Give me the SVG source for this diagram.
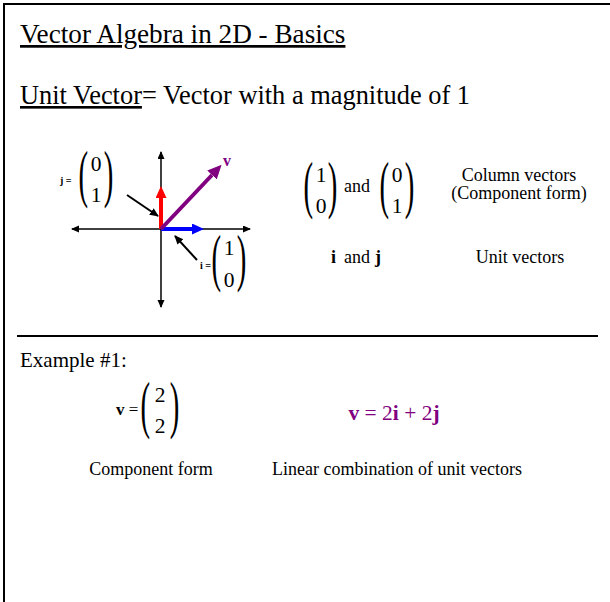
<svg xmlns="http://www.w3.org/2000/svg" width="610" height="602" viewBox="0 0 610 602" font-family="'Liberation Serif', 'Times New Roman', serif">
<defs>
<style>
text{font-family:"Liberation Serif","Times New Roman",serif;fill:#000}
.t26{font-family:"Liberation Serif","Times New Roman",serif;font-size:27.2px}
.t17{font-family:"Liberation Serif","Times New Roman",serif;font-size:17px}
.t18{font-family:"Liberation Serif","Times New Roman",serif;font-size:18px}
.dig{font-family:"Liberation Serif","Times New Roman",serif;font-size:21.5px;text-anchor:middle}
.par{font-family:"Liberation Serif","Times New Roman",serif;font-size:64px}
.lbl{font-family:"Liberation Serif","Times New Roman",serif;font-size:10px;font-weight:bold}
.b{font-weight:bold}
.pur{fill:#800080}
.axis{stroke:#000;stroke-width:1.5;fill:none}
.ptr{stroke:#000;stroke-width:2;fill:none}
</style>
<marker id="ah" markerUnits="userSpaceOnUse" markerWidth="8" markerHeight="8" refX="7" refY="3.5" orient="auto-start-reverse"><path d="M0,0 L8,3.5 L0,7 z" fill="#000"/></marker>
<marker id="ap" markerUnits="userSpaceOnUse" markerWidth="10" markerHeight="10" refX="8" refY="4" orient="auto"><path d="M0,0 L9,4 L0,8 z" fill="#000"/></marker>
<marker id="ar" markerUnits="userSpaceOnUse" markerWidth="13" markerHeight="12" refX="0" refY="5.5" orient="auto"><path d="M0,0 L12,5.5 L0,11 z" fill="#ff0000"/></marker>
<marker id="ab" markerUnits="userSpaceOnUse" markerWidth="13" markerHeight="12" refX="0" refY="5.5" orient="auto"><path d="M0,0 L12,5.5 L0,11 z" fill="#0000ff"/></marker>
<marker id="av" markerUnits="userSpaceOnUse" markerWidth="15" markerHeight="14" refX="0" refY="6.5" orient="auto"><path d="M0,0 L14,6.5 L0,13 z" fill="#800080"/></marker>
</defs>
<rect x="4" y="4" width="640" height="640" fill="#fff" stroke="#000" stroke-width="2"/>
<line x1="17" y1="336" x2="598" y2="336" stroke="#000" stroke-width="2"/>

<g id="title">
<text class="t26" x="20" y="43" text-decoration="underline">Vector Algebra in 2D - Basics</text>
</g>
<g id="definition">
<text class="t26" x="20" y="104" style="font-size:26.4px"><tspan text-decoration="underline">Unit Vector</tspan>= Vector with a magnitude of 1</text>
</g>

<g id="connectors">
<line class="axis" x1="161" y1="152" x2="161" y2="307" marker-start="url(#ah)" marker-end="url(#ah)"/>
<line class="axis" x1="72" y1="229" x2="250" y2="229" marker-start="url(#ah)" marker-end="url(#ah)"/>
<line x1="161" y1="229" x2="161" y2="198" stroke="#ff0000" stroke-width="4" marker-end="url(#ar)"/>
<line x1="161" y1="229" x2="192" y2="229" stroke="#0000ff" stroke-width="4" marker-end="url(#ab)"/>
<line x1="161" y1="229" x2="212" y2="175" stroke="#800080" stroke-width="4" marker-end="url(#av)"/>
<line class="ptr" x1="127" y1="195" x2="158" y2="216" marker-end="url(#ap)"/>
<line class="ptr" x1="197" y1="260" x2="175" y2="236" marker-end="url(#ap)"/>
</g>

<g id="v-label"><text class="b pur" x="223" y="166" font-size="16">v</text></g>

<g id="j-vector">
<text class="lbl" x="60" y="184">j =</text>
<text class="par" transform="translate(78.6,195) scale(0.45,1)">(</text>
<text class="par" transform="translate(103.8,195) scale(0.45,1)">)</text>
<text class="dig" x="96" y="171">0</text>
<text class="dig" x="96" y="202">1</text>
</g>

<g id="i-vector">
<text class="lbl" x="200" y="269">i =</text>
<text class="par" transform="translate(211.6,279) scale(0.45,1)">(</text>
<text class="par" transform="translate(236.8,279) scale(0.45,1)">)</text>
<text class="dig" x="229" y="255">1</text>
<text class="dig" x="229" y="287">0</text>
</g>

<g id="column-vectors">
<text class="par" transform="translate(303.6,206) scale(0.45,1)">(</text>
<text class="par" transform="translate(327.8,206) scale(0.45,1)">)</text>
<text class="dig" x="321" y="182">1</text>
<text class="dig" x="321" y="213">0</text>
<text class="t18" x="344" y="192">and</text>
<text class="par" transform="translate(379.6,206) scale(0.45,1)">(</text>
<text class="par" transform="translate(404.8,206) scale(0.45,1)">)</text>
<text class="dig" x="397" y="182">0</text>
<text class="dig" x="397" y="213">1</text>
</g>
<g id="column-caption">
<text class="t18" x="519" y="181" text-anchor="middle">Column vectors</text>
<text class="t18" x="519" y="199" text-anchor="middle">(Component form)</text>
</g>
<g id="unit-vectors">
<text class="t18" x="331" y="263"><tspan class="b">i</tspan></text>
<text class="t18" x="344" y="263">and</text>
<text class="t18" x="375" y="263"><tspan class="b">j</tspan></text>
<text class="t18" x="520" y="263" text-anchor="middle">Unit vectors</text>
</g>

<g id="example">
<text x="20" y="367" font-size="21">Example #1:</text>
</g>
<g id="component-form">
<text class="t17" x="116" y="415"><tspan class="b">v</tspan> =</text>
<text class="par" transform="translate(140.6,426) scale(0.45,1)">(</text>
<text class="par" transform="translate(169.8,426) scale(0.45,1)">)</text>
<text class="dig" x="160" y="402">2</text>
<text class="dig" x="160" y="433">2</text>
<text class="t18" x="151" y="475" text-anchor="middle">Component form</text>
</g>
<g id="linear-combination">
<text class="pur" x="394" y="420" font-size="21.5" text-anchor="middle"><tspan class="b">v</tspan> = 2<tspan class="b">i</tspan> + 2<tspan class="b">j</tspan></text>
<text class="t18" x="397" y="475" text-anchor="middle">Linear combination of unit vectors</text>
</g>
</svg>
